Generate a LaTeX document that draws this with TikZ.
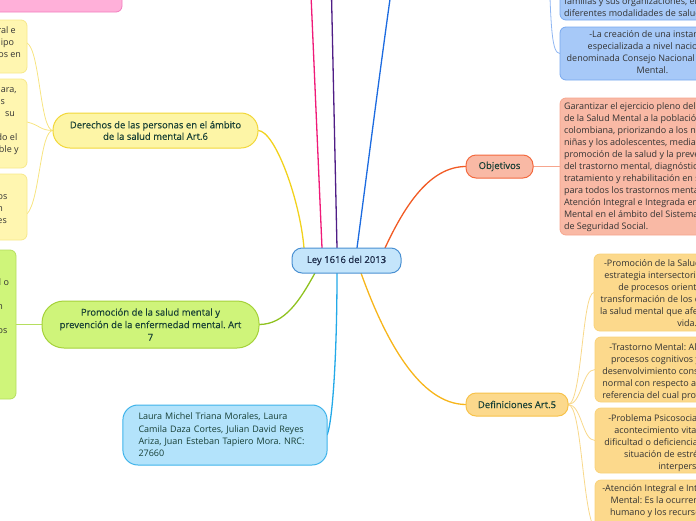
\documentclass[tikz,border=0pt]{standalone}
\usepackage{fontspec}
\setmainfont{Open Sans}
\newfontfamily\topicfont[FakeBold=0.35]{Open Sans}
\frenchspacing
\pgfdeclarelayer{bg}
\pgfsetlayers{bg,main}
\definecolor{topictx}{HTML}{173F35}
\definecolor{leytx}{HTML}{1B2A48}
\definecolor{boxtx}{HTML}{333333}
\definecolor{cenfill}{HTML}{C4E5FB}
\definecolor{cenline}{HTML}{4A90D2}
\definecolor{pinkfill}{HTML}{FFB0D9}
\definecolor{pinkline}{HTML}{F27FBF}
\definecolor{pinkc}{HTML}{EF1A78}
\definecolor{purplec}{HTML}{4F1D86}
\definecolor{bluec}{HTML}{1C6BE0}
\definecolor{bluefill}{HTML}{A7C9F8}
\definecolor{blueline}{HTML}{78A8EF}
\definecolor{bluethin}{HTML}{8FB6F2}
\definecolor{yelc}{HTML}{F2D21D}
\definecolor{yelfill}{HTML}{FDF5A6}
\definecolor{yelline}{HTML}{F2D73A}
\definecolor{yelbox}{HTML}{FFF6B0}
\definecolor{yelboxline}{HTML}{F7E88A}
\definecolor{yelthin}{HTML}{F7E480}
\definecolor{greenc}{HTML}{8FC21F}
\definecolor{greenfill}{HTML}{CFF47A}
\definecolor{greenline}{HTML}{A5D23A}
\definecolor{greenbox}{HTML}{CFF57A}
\definecolor{greenboxline}{HTML}{B5DE5F}
\definecolor{cyanc}{HTML}{23A9E8}
\definecolor{authfill}{HTML}{B3E3FB}
\definecolor{authline}{HTML}{3EB3EA}
\definecolor{orangec}{HTML}{F15A24}
\definecolor{objfill}{HTML}{F9B9A5}
\definecolor{objline}{HTML}{F36A3F}
\definecolor{objboxline}{HTML}{F6A58D}
\definecolor{goldc}{HTML}{F7B51A}
\definecolor{deffill}{HTML}{FCD98C}
\definecolor{defline}{HTML}{F7C24A}
\definecolor{defboxline}{HTML}{F9D27A}
\definecolor{goldthin}{HTML}{F8D88A}
\newcommand\tlines[2]{\begin{tabular}[t]{@{}#1@{}}#2\end{tabular}}
\begin{document}
\begin{tikzpicture}[x=1pt,y=-1pt,
  every node/.style={inner sep=0pt, outer sep=0pt},
  body/.style={font=\fontsize{9}{12}\selectfont, text=boxtx},
  topic/.style={draw, line width=1pt, align=center, text=topictx, font=\topicfont\fontsize{9.5}{12}\selectfont},
  leaf/.style={draw, line width=0.8pt, rounded corners=6pt},
  conn/.style={line width=1.3pt},
  thinc/.style={line width=0.8pt}]
\useasboundingbox (0,0) rectangle (696,520);
\clip (0,0) rectangle (696,520);

% ---------- boxes ----------
\node[leaf, fill=pinkfill, draw=pinkline, minimum width=170pt, minimum height=50pt] (pink) at (37,-13) {};

\node[topic, fill=cenfill, draw=cenline, rounded corners=10pt, minimum width=109pt, minimum height=25pt, text=leytx] (ley) at (346.5,260.5) {Ley 1616 del 2013};

\node[topic, fill=yelfill, draw=yelline, rounded corners=17pt, minimum width=205pt, minimum height=35pt, font=\topicfont\fontsize{9.5}{11.5}\selectfont] (der) at (155.5,130.5) {Derechos de las personas en el ámbito\\de la salud mental Art.6};

\node[topic, fill=greenfill, draw=greenline, rounded corners=22pt, minimum width=217pt, minimum height=47pt, font=\topicfont\fontsize{9.5}{12.5}\selectfont] (prom) at (150.5,324.5) {Promoción de la salud mental y\\prevención de la enfermedad mental. Art\\7};

\node[topic, fill=objfill, draw=objline, rounded corners=10pt, minimum width=67pt, minimum height=23pt] (obj) at (499.5,166.5) {Objetivos};

\node[topic, fill=deffill, draw=defline, rounded corners=10pt, minimum width=102pt, minimum height=23pt] (def) at (517,404.5) {Definiciones Art.5};

\node[draw, line width=1pt, fill=authfill, draw=authline, rounded corners=15pt, text width=173pt, align=left, inner xsep=15.6pt, minimum height=60pt, text=topictx, font=\fontsize{9}{12.3}\selectfont] (auth) at (225,435) {Laura Michel Triana Morales, Laura\\Camila Daza Cortes, Julian David Reyes\\Ariza, Juan Esteban Tapiero Mora. NRC:\\27660};

\node[leaf, fill=objfill, draw=objboxline, minimum width=200pt, minimum height=137pt] (objbox) at (660,166.5) {};
\node[leaf, fill=deffill, draw=defboxline, minimum width=188pt, minimum height=77pt] (defa) at (688,292.5) {};
\node[leaf, fill=deffill, draw=defboxline, minimum width=187pt, minimum height=65pt] (defb) at (688.5,369.5) {};
\node[leaf, fill=deffill, draw=defboxline, minimum width=187pt, minimum height=65pt] (defc) at (688.5,440.5) {};
\node[leaf, fill=deffill, draw=defboxline, minimum width=187pt, minimum height=80pt] (defd) at (688.5,520) {};
\node[leaf, fill=bluefill, draw=blueline, minimum width=184pt, minimum height=60pt] (bluea) at (652,-10) {};
\node[leaf, fill=bluefill, draw=blueline, minimum width=184pt, minimum height=53pt] (blueb) at (652,53.5) {};
\node[leaf, fill=yelbox, draw=yelboxline, minimum width=177pt, minimum height=53pt] (yela) at (-61.5,46.5) {};
\node[leaf, fill=yelbox, draw=yelboxline, minimum width=177pt, minimum height=89pt] (yelb) at (-61.5,123.5) {};
\node[leaf, fill=yelbox, draw=yelboxline, minimum width=177pt, minimum height=66pt] (yelc) at (-61.5,207) {};
\node[leaf, fill=greenbox, draw=greenboxline, minimum width=166pt, minimum height=149pt] (lime) at (-67,324.5) {};

% ---------- texts in boxes ----------
\node[body, anchor=base west] (objtext) at (564,109.3) {\tlines{l}{Garantizar el ejercicio pleno del Derecho\\de la Salud Mental a la población\\colombiana, priorizando a los niños, las\\niñas y los adolescentes, mediante la\\promoción de la salud y la prevención\\del trastorno mental, diagnóstico,\\tratamiento y rehabilitación en salud\\para todos los trastornos mentales, la\\Atención Integral e Integrada en Salud\\Mental en el ámbito del Sistema General\\de Seguridad Social.}};

\node[body, anchor=base west] (defatext) at (600,266.7) {\tlines{l}{\hspace*{4pt}-Promoción de la Salud Mental: es una\\\hspace*{4.3pt}estrategia intersectorial y un conjunto\\\hspace*{18.3pt}de procesos orientados hacia la\\\hspace*{0.7pt}transformación de los determinantes de\\la salud mental que afectan la calidad de\\\hspace*{77.3pt}vida.}};

\node[body, anchor=base west] (defbtext) at (602.3,350) {\tlines{l}{\hspace*{7pt}-Trastorno Mental: Alteración de los\\\hspace*{8.7pt}procesos cognitivos y afectivos del\\desenvolvimiento considerado como\\normal con respecto al grupo social de\\referencia del cual proviene el individuo.}};

\node[body, anchor=base west] (defctext) at (604.3,421) {\tlines{l}{\hspace*{4pt}-Problema Psicosocial: puede ser un\\\hspace*{10pt}acontecimiento vital negativo, una\\dificultad o deficiencia ambiental, una\\\hspace*{19.7pt}situación de estrés familiar o\\\hspace*{54pt}interpersonal.}};

\node[body, anchor=base west] (defdtext) at (602.3,491.7) {\tlines{l}{-Atención Integral e Integrada en Salud\\\hspace*{8.4pt}Mental: Es la ocurrencia del talento\\\hspace*{7.7pt}humano y los recursos suficientes y}};

\node[body, anchor=base west] (blueatext) at (564,4) {\tlines{l}{familias y sus organizaciones, en las\\diferentes modalidades de salud mental.}};

\node[body, anchor=base west] (bluebtext) at (566.7,37.3) {\tlines{l}{\hspace*{22.6pt}-La creación de una instancia\\\hspace*{21pt}especializada a nivel nacional\\denominada Consejo Nacional de Salud\\\hspace*{70pt}Mental.}};

\node[body, anchor=base east] (yelatext) at (21,33) {\tlines{r}{atención integral e\hspace*{5.3pt}\\por el equipo\hspace*{7pt}\\humano y servicios especializados en}};

\node[body, anchor=base east] (yelbtext) at (18.7,92) {\tlines{r}{información clara,\hspace*{2pt}\\diagnóstico y análisis\hspace*{13.7pt}\\relacionadas con\hspace{5pt} su\hspace*{3.7pt}\\ \\incluyendo el\hspace*{1.4pt}\\duración probable y}};

\node[body, anchor=base east] (yelctext) at (7.3,199) {\tlines{r}{servicios\\en\hspace*{4.3pt}\\profesionales\hspace*{0.5pt}}};

\node[body, anchor=base east] (limetext) at (9,285.7) {\tlines{r}{ámbito social o\\ \\prevención\hspace*{6pt}\\ \\trastornos\hspace*{1.7pt}}};

% ---------- connectors ----------
\coordinate (pinkend) at (311,-5);
\coordinate (purpend) at (331.5,-5);
\coordinate (blueend) at (391,-8);
\coordinate (bluetop) at (549,-30);
\begin{pgfonlayer}{bg}
\draw[conn, pinkc] ([xshift=-24.5pt]ley.north) -- (pinkend);
\draw[conn, purplec] ([xshift=-9.5pt]ley.north) -- (purpend);
\draw[conn, bluec] ([xshift=10.5pt]ley.north) .. controls (366,180) and (380,70) .. (blueend);
\draw[conn, yelc] ([xshift=-42.5pt]ley.north) .. controls (300,200) and (275,130.5) .. (der.east);
\draw[conn, orangec] ([xshift=38.5pt]ley.north) .. controls (405,205) and (430,166.5) .. (obj.west);
\draw[conn, greenc] ([xshift=-31.5pt]ley.south) .. controls (300,300) and (285,324.5) .. (prom.east);
\draw[conn, cyanc] ([xshift=-9.5pt]ley.south) .. controls (337,350) and (333,420) .. (auth.east);
\draw[conn, goldc] ([xshift=14.5pt]ley.south) .. controls (385,340) and (420,404.5) .. (def.west);

\draw[thinc, objboxline] (obj.east) -- (objbox.west);
\draw[thinc, yelthin] (der.west) .. controls (40,130.5) and (40,50) .. ([yshift=3.5pt]yela.east);
\draw[thinc, yelthin] (der.west) .. controls (40,130.5) and (40,125) .. ([yshift=1.5pt]yelb.east);
\draw[thinc, yelthin] (der.west) .. controls (40,130.5) and (40,200) .. ([yshift=-7pt]yelc.east);
\draw[thinc, greenboxline] (prom.west) -- (lime.east);
\draw[thinc, goldthin] (def.east) .. controls (582,404.5) and (582,292.5) .. (defa.west);
\draw[thinc, goldthin] (def.east) .. controls (582,404.5) and (582,369.5) .. (defb.west);
\draw[thinc, goldthin] (def.east) .. controls (582,404.5) and (582,440.5) .. (defc.west);
\draw[thinc, goldthin] (def.east) .. controls (582,404.5) and (582,510) .. ([yshift=-10pt]defd.west);
\draw[thinc, bluethin] (bluetop) .. controls (551,30) and (552,53.5) .. (blueb.west);
\end{pgfonlayer}
\end{tikzpicture}
\end{document}
